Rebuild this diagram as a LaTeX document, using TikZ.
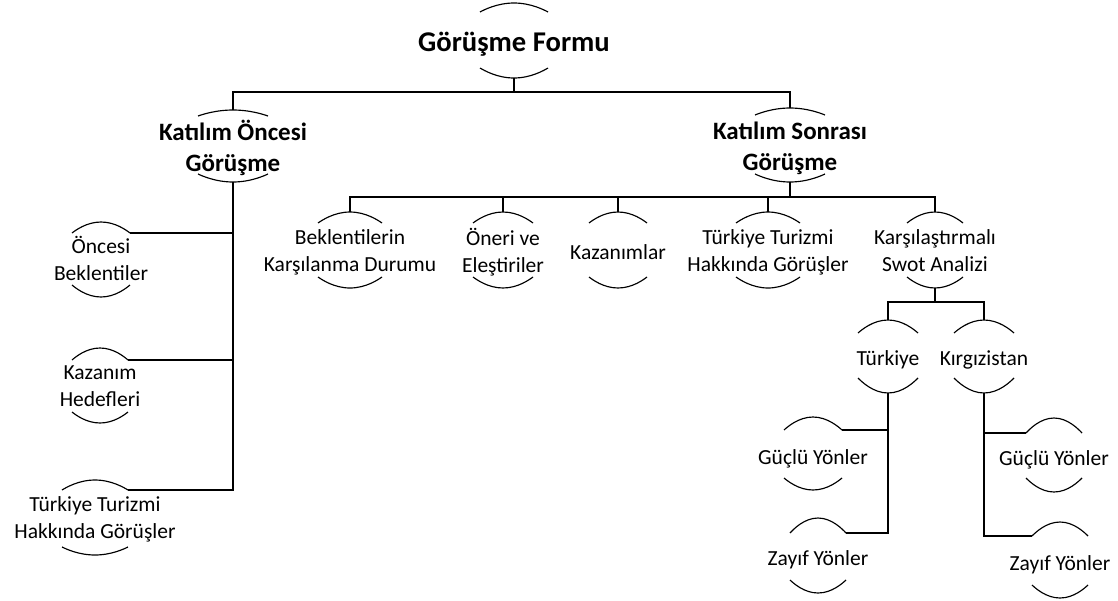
\documentclass[tikz,border=0pt]{standalone}
\usepackage{fontspec}
\setmainfont{Carlito}
\newcommand\harcs[6]{%
 \draw[arcline] ([shift={(-#2,#3)}]#1.center) parabola bend ([shift={(0,#3-#4)}]#1.center) ([shift={(#2,#3)}]#1.center);
 \draw[arcline] ([shift={(-#2,#5)}]#1.center) parabola bend ([shift={(0,#5+#6)}]#1.center) ([shift={(#2,#5)}]#1.center);
 \coordinate (#1-t) at ([shift={(0,#3-#4)}]#1.center);
 \coordinate (#1-b) at ([shift={(0,#5+#6)}]#1.center);
 \coordinate (#1-tl) at ([shift={(-#2,#3)}]#1.center);
 \coordinate (#1-tr) at ([shift={(#2,#3)}]#1.center);
}
\begin{document}
\begin{tikzpicture}[x=1pt,y=-1pt,
  txt/.style={inner sep=0pt, align=center,
    execute at begin node={\rule{0pt}{0.85em}},
    execute at end node={\rule[-0.25em]{0pt}{0pt}}},
  lbl/.style={txt, font=\fontsize{21.5}{27}\selectfont},
  lvone/.style={txt, font=\fontsize{25}{31}\selectfont\bfseries},
  rootlbl/.style={txt, font=\fontsize{28.6}{34}\selectfont\bfseries},
  arcline/.style={line width=1.15pt},
  conn/.style={line width=1.5pt}]
\useasboundingbox[fill=white] (0,0) rectangle (1118,600);

% nodes
\node[rootlbl] (root) at (514,43) {Görüşme Formu};
\harcs{root}{34}{-31}{9}{25}{10}

\node[lvone] (lo) at (233,149) {Katılım Öncesi\\Görüşme};
\harcs{lo}{35}{-33}{6}{25}{8}
\node[lvone] (ls) at (790,149) {Katılım Sonrası\\Görüşme};
\harcs{ls}{35}{-34}{7}{25}{8}

\node[lbl] (ob) at (101,261) {Öncesi\\Beklentiler};
\harcs{ob}{29}{-28}{11}{24}{12}
\node[lbl] (kh) at (100,389) {Kazanım\\Hedefleri};
\harcs{kh}{28}{-29}{12}{23}{11}
\node[lbl] (tl) at (95,520) {Türkiye Turizmi\\Hakkında Görüşler};
\harcs{tl}{33}{-30}{10}{27}{8}

\node[lbl] (bk) at (350,253) {Beklentilerin\\Karşılanma Durumu};
\harcs{bk}{32}{-30}{11}{24}{11}
\node[lbl] (on) at (503,253) {Öneri ve\\Eleştiriler};
\harcs{on}{30}{-30}{11}{24}{11}
\node[lbl] (kz) at (618,253) {Kazanımlar};
\harcs{kz}{29}{-30}{11}{24}{11}
\node[lbl] (tt) at (768,253) {Türkiye Turizmi\\Hakkında Görüşler};
\harcs{tt}{32}{-30}{11}{24}{11}
\node[lbl] (sw) at (935,253) {Karşılaştırmalı\\Swot Analizi};
\harcs{sw}{28}{-30}{11}{24}{11}

\node[lbl] (tr) at (888,359) {Türkiye};
\harcs{tr}{30}{-26}{13}{19}{15}
\node[lbl] (kg) at (984,359) {Kırgızistan};
\harcs{kg}{30}{-26}{13}{19}{15}

\node[lbl] (gl) at (813,458) {Güçlü Yönler};
\harcs{gl}{29}{-28}{13}{20}{12}
\node[lbl] (zl) at (818,559) {Zayıf Yönler};
\harcs{zl}{28}{-26}{15}{21}{13}
\node[lbl] (gr) at (1054,459) {Güçlü Yönler};
\harcs{gr}{28}{-26}{15}{19}{14}
\node[lbl] (zr) at (1060,564) {Zayıf Yönler};
\harcs{zr}{28}{-28}{14}{21}{13}

% connectors
\draw[conn] (root-b) -- ++(0,14) -| (lo-t);
\draw[conn] (root-b) -- ++(0,14) -| (ls-t);

\draw[conn] (lo-b) |- (ob-tr);
\draw[conn] (lo-b) |- (kh-tr);
\draw[conn] (lo-b) |- (tl-tr);

\draw[conn] (ls-b) -- ++(0,15) -| (bk-t);
\draw[conn] (ls-b) -- ++(0,15) -| (on-t);
\draw[conn] (ls-b) -- ++(0,15) -| (kz-t);
\draw[conn] (ls-b) -- ++(0,15) -| (tt-t);
\draw[conn] (ls-b) -- ++(0,15) -| (sw-t);

\draw[conn] (sw-b) -- ++(0,14) -| (tr-t);
\draw[conn] (sw-b) -- ++(0,14) -| (kg-t);

\draw[conn] (tr-b) |- (gl-tr);
\draw[conn] (tr-b) |- (zl-tr);
\draw[conn] (kg-b) |- (gr-tl);
\draw[conn] (kg-b) |- (zr-tl);
\end{tikzpicture}
\end{document}
